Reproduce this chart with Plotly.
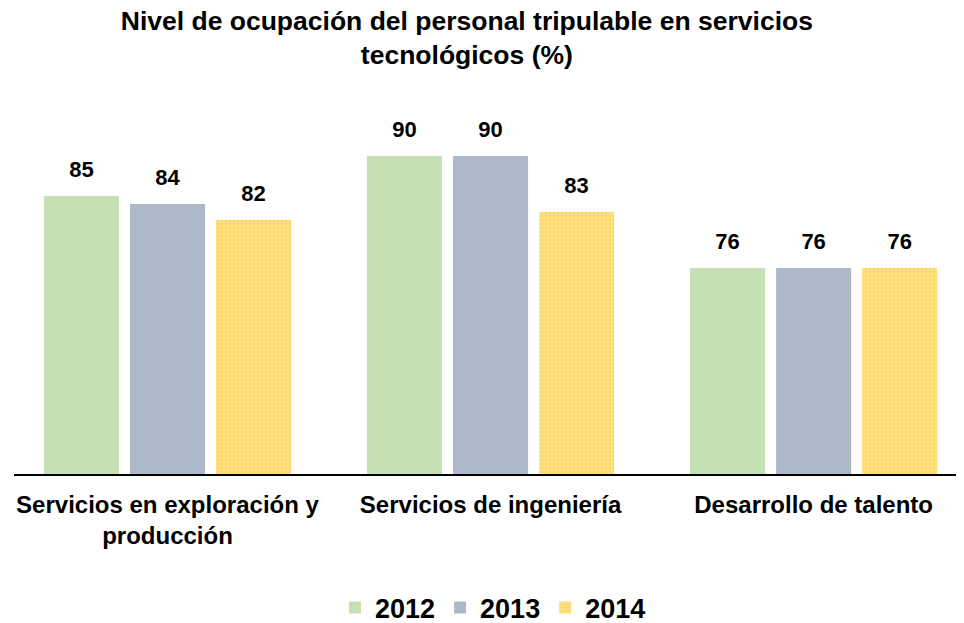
import plotly.graph_objects as go

categorias = ["Servicios en exploración y<br>producción", "Servicios de ingeniería", "Desarrollo de talento"]
anios = ["2012", "2013", "2014"]
valores_2012 = [85, 90, 76]
valores_2013 = [84, 90, 76]
valores_2014 = [82, 83, 76]

x_pos = [0, 1, 2]
series = [
    ("2012", valores_2012, "#C5E0B4"),
    ("2013", valores_2013, "#ADB9CA"),
    ("2014", valores_2014, "#FFD966"),
]

fig = go.Figure()
for nombre, vals, color in series:
    marker = dict(color=color, line=dict(width=0))
    if nombre == "2014":
        marker["pattern"] = dict(shape=".", fgcolor="#FFF2CC", bgcolor=color, size=4, solidity=0.35)
    fig.add_trace(go.Bar(x=x_pos, y=vals, name="<b>" + nombre + "</b>", marker=marker))

# etiquetas de valor (scatter agrupado para quedar sobre cada barra)
for nombre, vals, color in series:
    fig.add_trace(go.Scatter(
        x=x_pos, y=vals, mode="markers+text", showlegend=False,
        marker=dict(size=20, opacity=0), text=["<b>%d</b>" % v for v in vals],
        textposition="top center", hoverinfo="skip", cliponaxis=False,
        textfont=dict(family="Liberation Sans, Arial", size=22, color="#000000"),
    ))

fig.update_layout(
    width=964, height=623,
    paper_bgcolor="white", plot_bgcolor="white",
    margin=dict(l=6, r=0, t=72, b=157, autoexpand=False),
    barmode="group", bargap=0.201, bargroupgap=0.128,
    scattermode="group", scattergap=0.201,
    font=dict(family="Liberation Sans, Arial", color="#000000"),
    title=dict(
        text="<b>Nivel de ocupación del personal tripulable en servicios<br>tecnológicos (%)</b>",
        x=0.476, xanchor="center", y=0.965, yanchor="middle",
        font=dict(size=26.5, color="#000000"),
    ),
    legend=dict(
        orientation="h", x=0.5, xanchor="center", y=-0.34, yanchor="middle",
        font=dict(size=27, color="#000000"),
        itemwidth=30,
    ),
    xaxis=dict(
        tickvals=x_pos, ticktext=["<b>" + c + "</b>" for c in categorias],
        range=[-0.4751, 2.4902], showline=True, linecolor="#000000", linewidth=2,
        ticks="", ticklabelstandoff=8,
        tickfont=dict(size=24, color="#000000"), showgrid=False, zeroline=False,
    ),
    yaxis=dict(range=[50.25, 99.5], visible=False, showgrid=False, zeroline=False),
)

fig.write_html("out.html")
